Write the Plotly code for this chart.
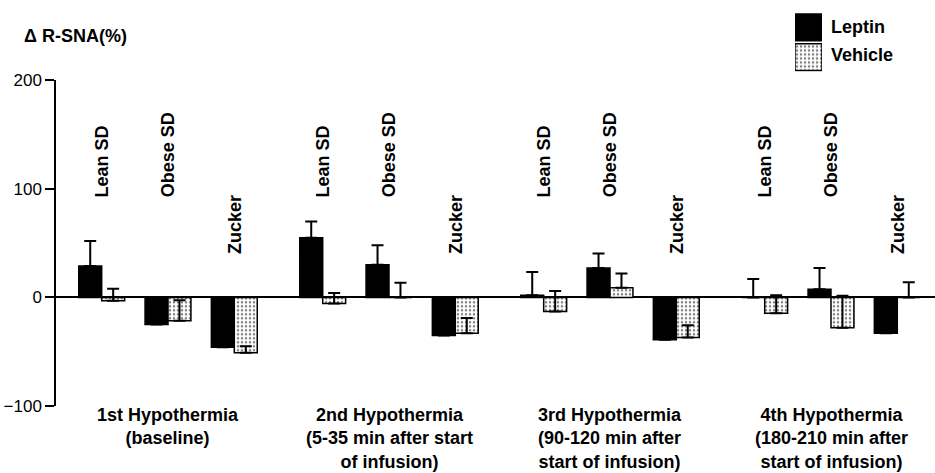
import plotly.graph_objects as go

# ---- data ----
periods = ["1st Hypothermia<br>(baseline)",
           "2nd Hypothermia<br>(5-35 min after start<br>of infusion)",
           "3rd Hypothermia<br>(90-120 min after<br>start of infusion)",
           "4th Hypothermia<br>(180-210 min after<br>start of infusion)"]
strains = ["Lean SD", "Obese SD", "Zucker"]

leptin = [29, -25, -46,
          55, 30, -35,
          2, 27, -39,
          0, 7.5, -33]
leptin_err = [23, 8, 6,
              15, 18, 6,
              21.5, 13.5, 8,
              17, 19.5, 6]
vehicle = [-3, -21.5, -51,
           -5.5, 0, -33,
           -13, 9, -37,
           -14.5, -28, 0]
vehicle_err = [11, 19, 6,
               9.5, 13.5, 14,
               19, 13, 11.3,
               16.5, 29.5, 14]

y_ticks = [-100, 0, 100, 200]
label_height = {"Lean SD": 90, "Obese SD": 90, "Zucker": 38}

# ---- layout geometry ----
W, H = 935, 473
ML, MR, MT, MB = 56, 0, 5, 67
PW, PH = W - ML - MR, H - MT - MB
GROUP_STEP = 10 / 3
BAR_W = 0.346

def px_x(px):
    return (px - ML) / PW

def px_y(py):
    return (H - MB - py) / PH

centers = [g * GROUP_STEP + (j - 1) for g in range(len(periods)) for j in range(len(strains))]

FONT = "Liberation Sans, Arial, sans-serif"
pattern = dict(shape=".", size=4, solidity=0.3, fgcolor="black", bgcolor="white")

fig = go.Figure()
fig.add_trace(go.Bar(
    x=centers, y=leptin, width=BAR_W, offset=-BAR_W, name="Leptin",
    marker=dict(color="black", line=dict(color="black", width=1.5)),
    error_y=dict(type="data", symmetric=False, array=leptin_err,
                 arrayminus=[0] * len(leptin_err), color="black", thickness=2, width=6),
    showlegend=False))
fig.add_trace(go.Bar(
    x=centers, y=vehicle, width=BAR_W, offset=0, name="Vehicle",
    marker=dict(color="white", pattern=pattern, line=dict(color="black", width=1.5)),
    error_y=dict(type="data", symmetric=False, array=vehicle_err,
                 arrayminus=[0] * len(vehicle_err), color="black", thickness=2, width=6),
    showlegend=False))

# legend swatches on a hidden mini axis
fig.add_trace(go.Bar(x=[1], y=[1], orientation="h", width=0.9, offset=-0.45,
                     xaxis="x2", yaxis="y2", showlegend=False, hoverinfo="skip",
                     marker=dict(color="black", line=dict(color="black", width=1.5))))
fig.add_trace(go.Bar(x=[1], y=[0], orientation="h", width=0.9, offset=-0.45,
                     xaxis="x2", yaxis="y2", showlegend=False, hoverinfo="skip",
                     marker=dict(color="white", pattern=pattern, line=dict(color="black", width=1.5))))

annotations = []
# vertical strain labels
for i, c in enumerate(centers):
    s = strains[i % len(strains)]
    annotations.append(dict(x=c, y=label_height[s], xref="x", yref="y", text=f"<b>{s}</b>",
                            textangle=-90, xanchor="center", yanchor="bottom", showarrow=False,
                            font=dict(family=FONT, size=18, color="black")))
# period labels
for g, p in enumerate(periods):
    annotations.append(dict(x=g * GROUP_STEP, y=px_y(403), xref="x", yref="paper",
                            text=f"<b>{p}</b>", xanchor="center", yanchor="top", align="center",
                            showarrow=False, font=dict(family=FONT, size=18, color="black")))
# axis title
annotations.append(dict(x=px_x(22), y=px_y(32), xref="paper", yref="paper",
                        text="<b>Δ R-SNA(%)</b>", xanchor="left", yanchor="middle",
                        showarrow=False, font=dict(family=FONT, size=18, color="black")))
# legend labels
annotations.append(dict(x=px_x(829), y=px_y(23), xref="paper", yref="paper", text="<b>Leptin</b>",
                        xanchor="left", yanchor="middle", showarrow=False,
                        font=dict(family=FONT, size=18, color="black")))
annotations.append(dict(x=px_x(829), y=px_y(51), xref="paper", yref="paper", text="<b>Vehicle</b>",
                        xanchor="left", yanchor="middle", showarrow=False,
                        font=dict(family=FONT, size=18, color="black")))

fig.update_layout(
    width=W, height=H, barmode="overlay",
    margin=dict(l=ML, r=MR, t=MT, b=MB),
    paper_bgcolor="white", plot_bgcolor="white",
    font=dict(family=FONT, color="black"),
    xaxis=dict(range=[(ML - 168) / 66.3, (W - MR - 168) / 66.3], visible=False, anchor="y"),
    yaxis=dict(domain=[0, px_y(77)], range=[-100, 200], tickvals=y_ticks,
               ticks="outside", ticklen=9, tickwidth=1.5, tickcolor="black",
               showline=True, linecolor="black", linewidth=1.5, showgrid=False,
               zeroline=True, zerolinecolor="black", zerolinewidth=1.5,
               tickfont=dict(family=FONT, size=17, color="black"), anchor="x"),
    xaxis2=dict(domain=[px_x(795), px_x(822)], range=[0, 1], visible=False, anchor="y2"),
    yaxis2=dict(domain=[px_y(68.5), px_y(8.5)], range=[-0.5, 1.5], visible=False, anchor="x2"),
    annotations=annotations,
)

fig.write_html("out.html", config={"displayModeBar": False},
               post_script="document.body.style.margin='0';document.body.style.overflow='hidden';")
